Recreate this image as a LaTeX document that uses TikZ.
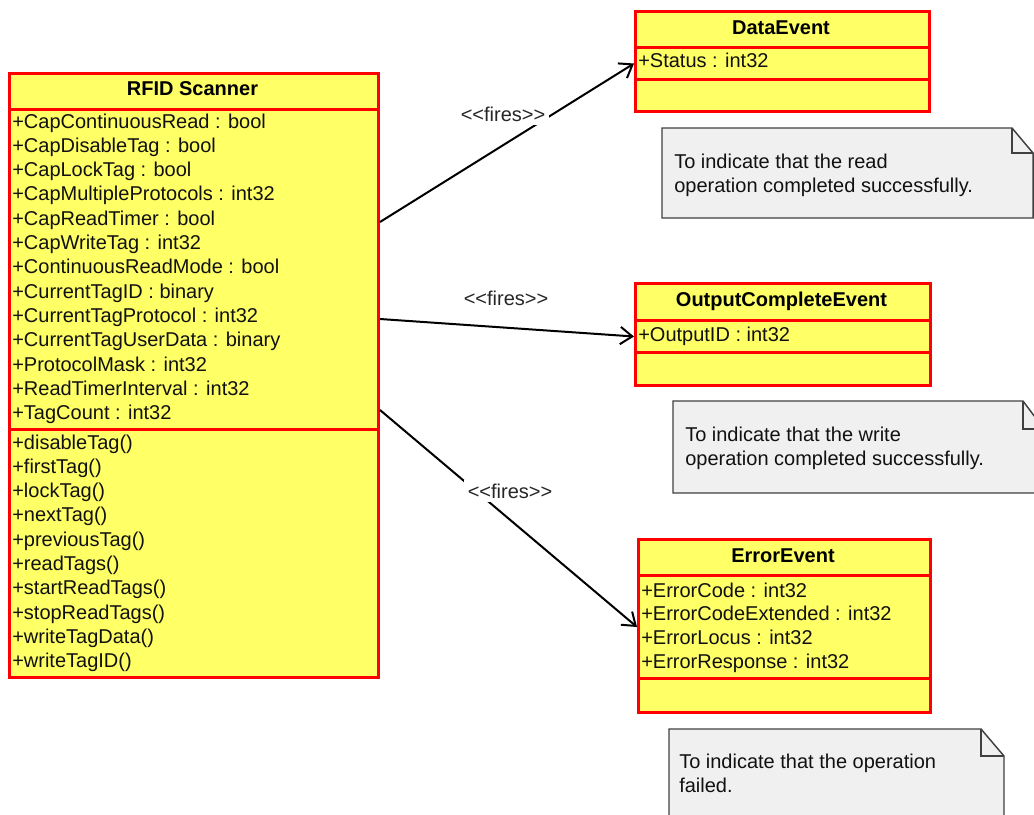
\documentclass[tikz,border=0pt]{standalone}
\usepackage{fontspec}
\setmainfont{Liberation Sans}[Ligatures=TeXOff]
\usetikzlibrary{arrows.meta,calc}
\definecolor{clsfill}{HTML}{FFFF66}
\definecolor{notefill}{HTML}{F0F0F0}
\definecolor{noteline}{HTML}{404040}
\definecolor{txtcol}{HTML}{111111}
\tikzset{
  box/.style={draw=red, line width=2.25pt, fill=clsfill, rectangle, inner sep=0pt, anchor=north west},
  txt/.style={anchor=base west, inner sep=0pt, text=txtcol, font=\fontsize{15}{18}\selectfont},
  hdr/.style={anchor=base, inner sep=0pt, text=black, font=\fontsize{15}{18}\selectfont\bfseries},
  notebox/.style={draw=noteline, line width=1.1pt, fill=notefill, line join=miter},
  foldline/.style={draw=noteline, line width=1.1pt},
  fires/.style={draw=black, line width=1.5pt, -{Straight Barb[length=9pt,width=13pt,line width=1.5pt]}},
  lbl/.style={fill=white, inner sep=3pt, text=black!85, font=\fontsize{15}{18}\selectfont}
}
\begin{document}
\begin{tikzpicture}[x=0.75pt,y=-0.75pt]
\useasboundingbox (0,0) rectangle (1034,814);
\clip (0,0) rectangle (1034,814);

% ---------------- RFID Scanner ----------------
\node[box, minimum width=369*0.75pt, minimum height=36*0.75pt] (rfidH) at (8,72) {};
\node[box, minimum width=369*0.75pt, minimum height=320*0.75pt] (rfidA) at (8,108) {};
\node[box, minimum width=369*0.75pt, minimum height=248*0.75pt] (rfidM) at (8,428) {};
\node[hdr] (rfidT) at (192.5,95) {RFID Scanner};
\foreach \t [count=\i] in {+CapContinuousRead : bool,+CapDisableTag : bool,+CapLockTag : bool,+CapMultipleProtocols : int32,+CapReadTimer : bool,+CapWriteTag : int32,+ContinuousReadMode : bool,+CurrentTagID : binary,+CurrentTagProtocol : int32,+CurrentTagUserData : binary,+ProtocolMask : int32,+ReadTimerInterval : int32,+TagCount : int32}
  \node[txt] (rfidAttr\i) at (12,{128+(\i-1)*24.3}) {\t};
\foreach \t [count=\i] in {+disableTag(),+firstTag(),+lockTag(),+nextTag(),+previousTag(),+readTags(),+startReadTags(),+stopReadTags(),+writeTagData(),+writeTagID()}
  \node[txt] (rfidOp\i) at (12,{449+(\i-1)*24.3}) {\t};

% ---------------- DataEvent ----------------
\node[box, minimum width=294*0.75pt, minimum height=36*0.75pt] (dataH) at (634,10) {};
\node[box, minimum width=294*0.75pt, minimum height=32*0.75pt] (dataA) at (634,46) {};
\node[box, minimum width=294*0.75pt, minimum height=32*0.75pt] (dataO) at (634,78) {};
\node[hdr] (dataT) at (781,34) {DataEvent};
\node[txt] (dataAttr1) at (638,67) {+Status : int32};

% ---------------- OutputCompleteEvent ----------------
\node[box, minimum width=295*0.75pt, minimum height=37*0.75pt] (outH) at (634,282) {};
\node[box, minimum width=295*0.75pt, minimum height=32*0.75pt] (outA) at (634,319) {};
\node[box, minimum width=295*0.75pt, minimum height=33*0.75pt] (outO) at (634,351) {};
\node[hdr] (outT) at (781.5,306) {OutputCompleteEvent};
\node[txt] (outAttr1) at (638,341) {+OutputID : int32};

% ---------------- ErrorEvent ----------------
\node[box, minimum width=292*0.75pt, minimum height=36*0.75pt] (errH) at (637,538) {};
\node[box, minimum width=292*0.75pt, minimum height=103*0.75pt] (errA) at (637,574) {};
\node[box, minimum width=292*0.75pt, minimum height=34*0.75pt] (errO) at (637,677) {};
\node[hdr] (errT) at (783,562) {ErrorEvent};
\foreach \t [count=\i] in {+ErrorCode : int32,+ErrorCodeExtended : int32,+ErrorLocus : int32,+ErrorResponse : int32}
  \node[txt] (errAttr\i) at (641,{597+(\i-1)*23.8}) {\t};

% ---------------- Notes ----------------
\draw[notebox] (662,128) -- (1012,128) -- (1033,153) -- (1033,218) -- (662,218) -- cycle;
\draw[foldline] (1012,128) -- (1012,153) -- (1033,153);
\node[txt] (note1a) at (674,168) {To indicate that the read};
\node[txt] (note1b) at (674,192) {operation completed successfully.};

\draw[notebox] (673,401) -- (1023,401) -- (1044,429) -- (1044,493) -- (673,493) -- cycle;
\draw[foldline] (1023,401) -- (1023,429) -- (1044,429);
\node[txt] (note2a) at (685,441) {To indicate that the write};
\node[txt] (note2b) at (685,465) {operation completed successfully.};

\draw[notebox] (669,729) -- (981,729) -- (1004,756) -- (1004,830) -- (669,830) -- cycle;
\draw[foldline] (981,729) -- (981,756) -- (1004,756);
\node[txt] (note3a) at (679,768) {To indicate that the operation};
\node[txt] (note3b) at (679,792) {failed.};

% ---------------- Connectors ----------------
\draw[fires] ($(rfidA.north east)+(0,114)$) -- (dataA.west);
\draw[fires] ($(rfidA.north east)+(0,211)$) -- (outA.west);
\draw[fires] ($(rfidA.north east)+(0,302)$) -- (errA.west);

\node[lbl] (fires1) at (503,114) {<<fires>>};
\node[lbl] (fires2) at (506,298) {<<fires>>};
\node[lbl] (fires3) at (510,491) {<<fires>>};
\end{tikzpicture}
\end{document}
